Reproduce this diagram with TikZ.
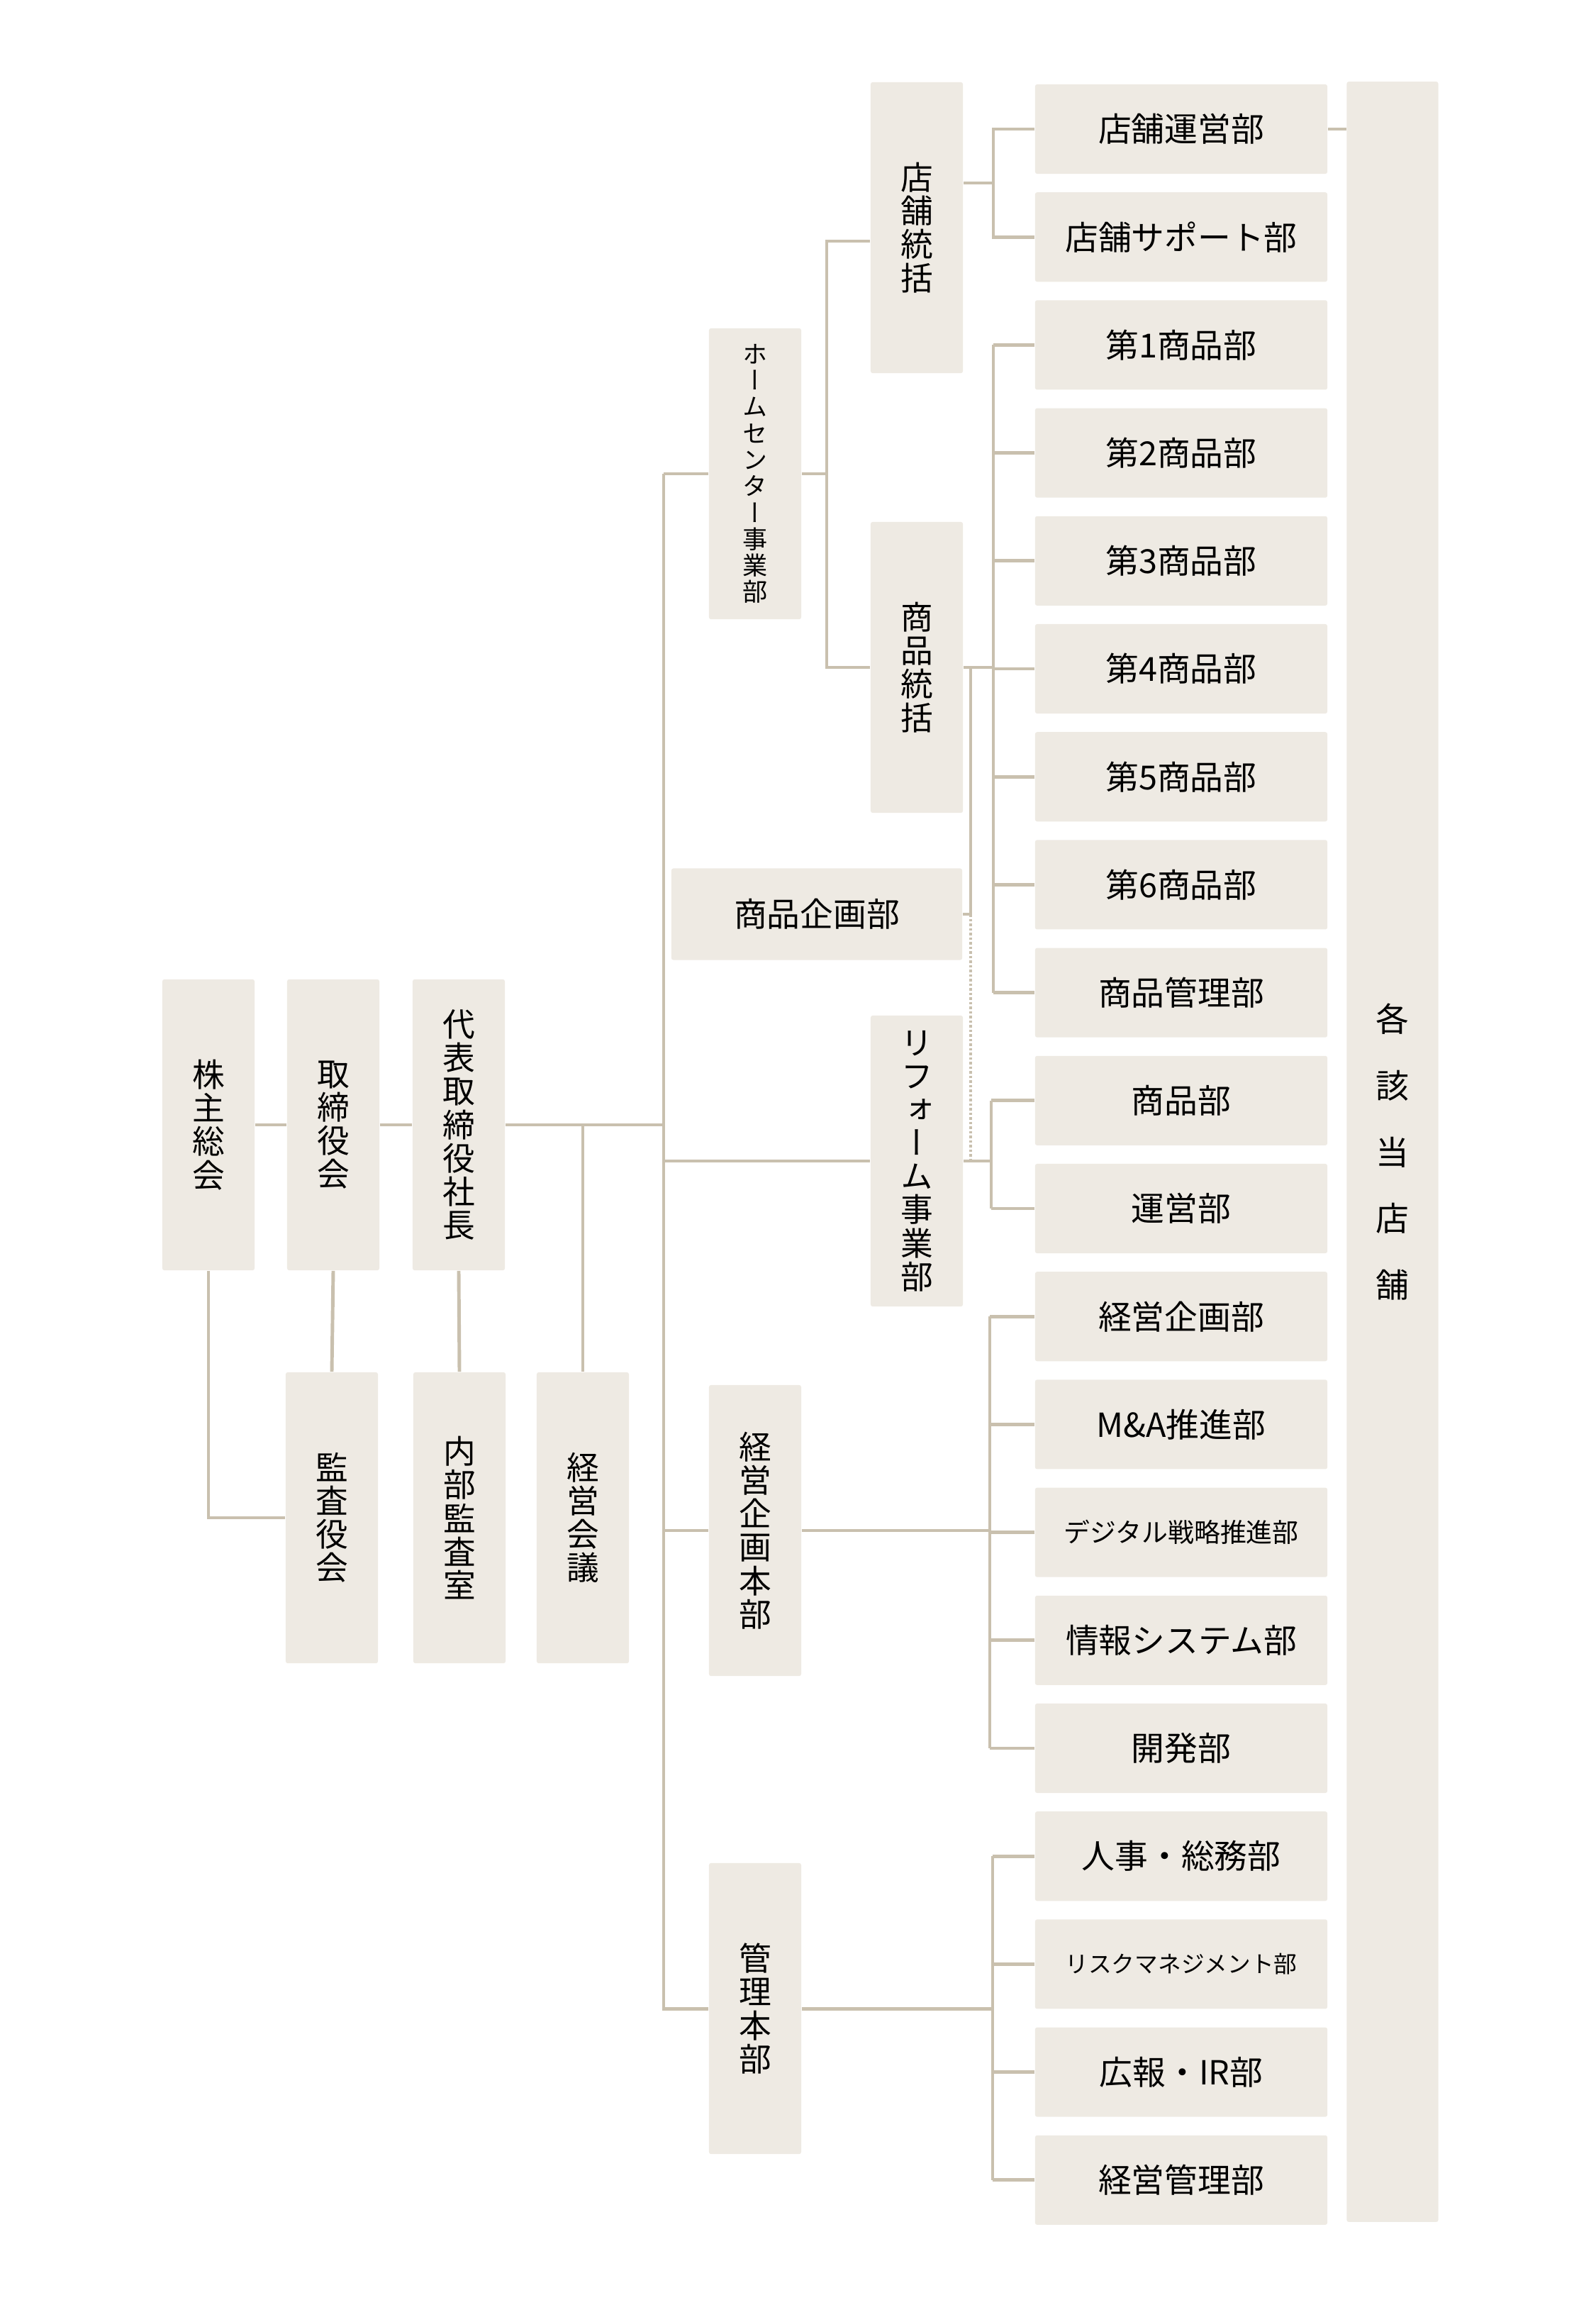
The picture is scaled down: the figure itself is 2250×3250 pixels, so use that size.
\documentclass[tikz,border=0pt]{standalone}
\usepackage{fontspec}
\newfontfamily\jp{Noto Sans CJK JP}
\newfontfamily\jpv{Noto Sans CJK JP}[RawFeature=+vert]
\definecolor{boxfill}{HTML}{EEEAE3}
\definecolor{linecol}{HTML}{C9C0AE}

\begin{document}
\begin{tikzpicture}[x=0.01cm,y=-0.01cm,
  orgbox/.style={fill=boxfill,inner sep=0pt,rounded corners=0.8pt,font=\jp\fontsize{13.3}{16}\selectfont},
  tatebox/.style={orgbox,minimum width=1.3cm,minimum height=4.1cm,align=center,font=\jpv\fontsize{13}{13.4}\selectfont},
  deptbox/.style={orgbox,minimum width=4.12cm,minimum height=1.26cm},
  conn/.style={draw=linecol,line width=1.4pt},
  dotconn/.style={draw=linecol,line width=1.1pt,dash pattern=on 0.35mm off 0.3mm}]
\useasboundingbox (0,0) rectangle (2250,3250);

% left side
\node[tatebox] (kabu) at (294,1586) {株\\主\\総\\会};
\node[tatebox] (tori) at (470,1586) {取\\締\\役\\会};
\node[tatebox] (daihyo) at (647,1586) {代\\表\\取\\締\\役\\社\\長};
\node[tatebox] (kansa) at (468,2140) {監\\査\\役\\会};
\node[tatebox] (naibu) at (648,2140) {内\\部\\監\\査\\室};
\node[tatebox] (kaigi) at (822,2140) {経\\営\\会\\議};

% divisions
\node[tatebox,font=\jpv\fontsize{10}{10.6}\selectfont] (hc) at (1065,668) {ホ\\ー\\ム\\セ\\ン\\タ\\ー\\事\\業\\部};
\node[tatebox] (tenpo) at (1293,321) {店\\舗\\統\\括};
\node[tatebox] (shohin) at (1293,941) {商\\品\\統\\括};
\node[orgbox,minimum width=4.1cm,minimum height=1.29cm] (kikaku) at (1152,1289) {商品企画部};
\node[tatebox] (reform) at (1293,1637) {リ\\フ\\ォ\\ー\\ム\\事\\業\\部};
\node[tatebox] (keihon) at (1065,2158) {経\\営\\企\\画\\本\\部};
\node[tatebox] (kanri) at (1065,2832) {管\\理\\本\\部};

% departments
\foreach \t [count=\k from 0] in {店舗運営部,店舗サポート部,第1商品部,第2商品部,第3商品部,第4商品部,
  第5商品部,第6商品部,商品管理部,商品部,運営部,経営企画部,M\&A推進部,
  {\fontsize{10.5}{12}\selectfont デジタル戦略推進部},情報システム部,開発部,人事・総務部,
  {\fontsize{9.3}{11}\selectfont リスクマネジメント部},広報・IR部,経営管理部}
  \node[deptbox] (dept\k) at (1666,{182+152.2*\k}) {\t};
\node[orgbox,minimum width=1.29cm,minimum height=30.16cm,align=center,font=\jp\fontsize{13.3}{26.7}\selectfont] (kakuten) at (1964,1624) {各\\該\\当\\店\\舗};

% connectors
\coordinate (trunk) at (936,668);
\draw[conn] (kabu) -- (tori);
\draw[conn] (tori) -- (daihyo);
\draw[conn] (daihyo) -- (daihyo -| trunk);
\draw[conn] (daihyo -| kaigi) -- (kaigi);
\draw[conn] (kabu.south) |- (kansa.west);
\draw[conn] (tori.south) -- (kansa.north);
\draw[conn] (daihyo.south) -- (naibu.north);
\draw[conn] (trunk) -- (hc);
\draw[conn] (trunk) |- (kanri.west);
\draw[conn] (trunk |- reform) -- (reform);
\draw[conn] (trunk |- keihon) -- (keihon);

\coordinate (hv) at (1166,668);
\draw[conn] (hc) -- (hv);
\draw[conn] (tenpo.west |- 0,340) -| (hv) |- (shohin.west);

\coordinate (tb) at (1401,258);
\draw[conn] (dept0.west) -| (tb) |- (dept1.west);
\draw[conn] (tenpo.east |- tb) -- (tb);

\foreach \src/\a/\b/\x in {shohin/2/8/1401,reform/9/10/1398,keihon/11/15/1396,kanri/16/19/1400}{
  \coordinate (br) at (\x,0);
  \draw[conn] (dept\a.west -| br) -- (dept\b.west -| br);
  \foreach \k in {\a,...,\b} \draw[conn] (dept\k.west) -- (dept\k.west -| br);
  \draw[conn] (\src) -- (\src -| br);
}

\coordinate (kj) at (1369,0);
\draw[conn] (shohin.east -| kj) -- (kikaku.east -| kj) -- (kikaku.east);
\draw[dotconn] (kikaku.east -| kj) -- (reform.east -| kj);

\draw[conn] (dept0.east) -- (dept0.east -| kakuten.west);
\end{tikzpicture}
\end{document}
